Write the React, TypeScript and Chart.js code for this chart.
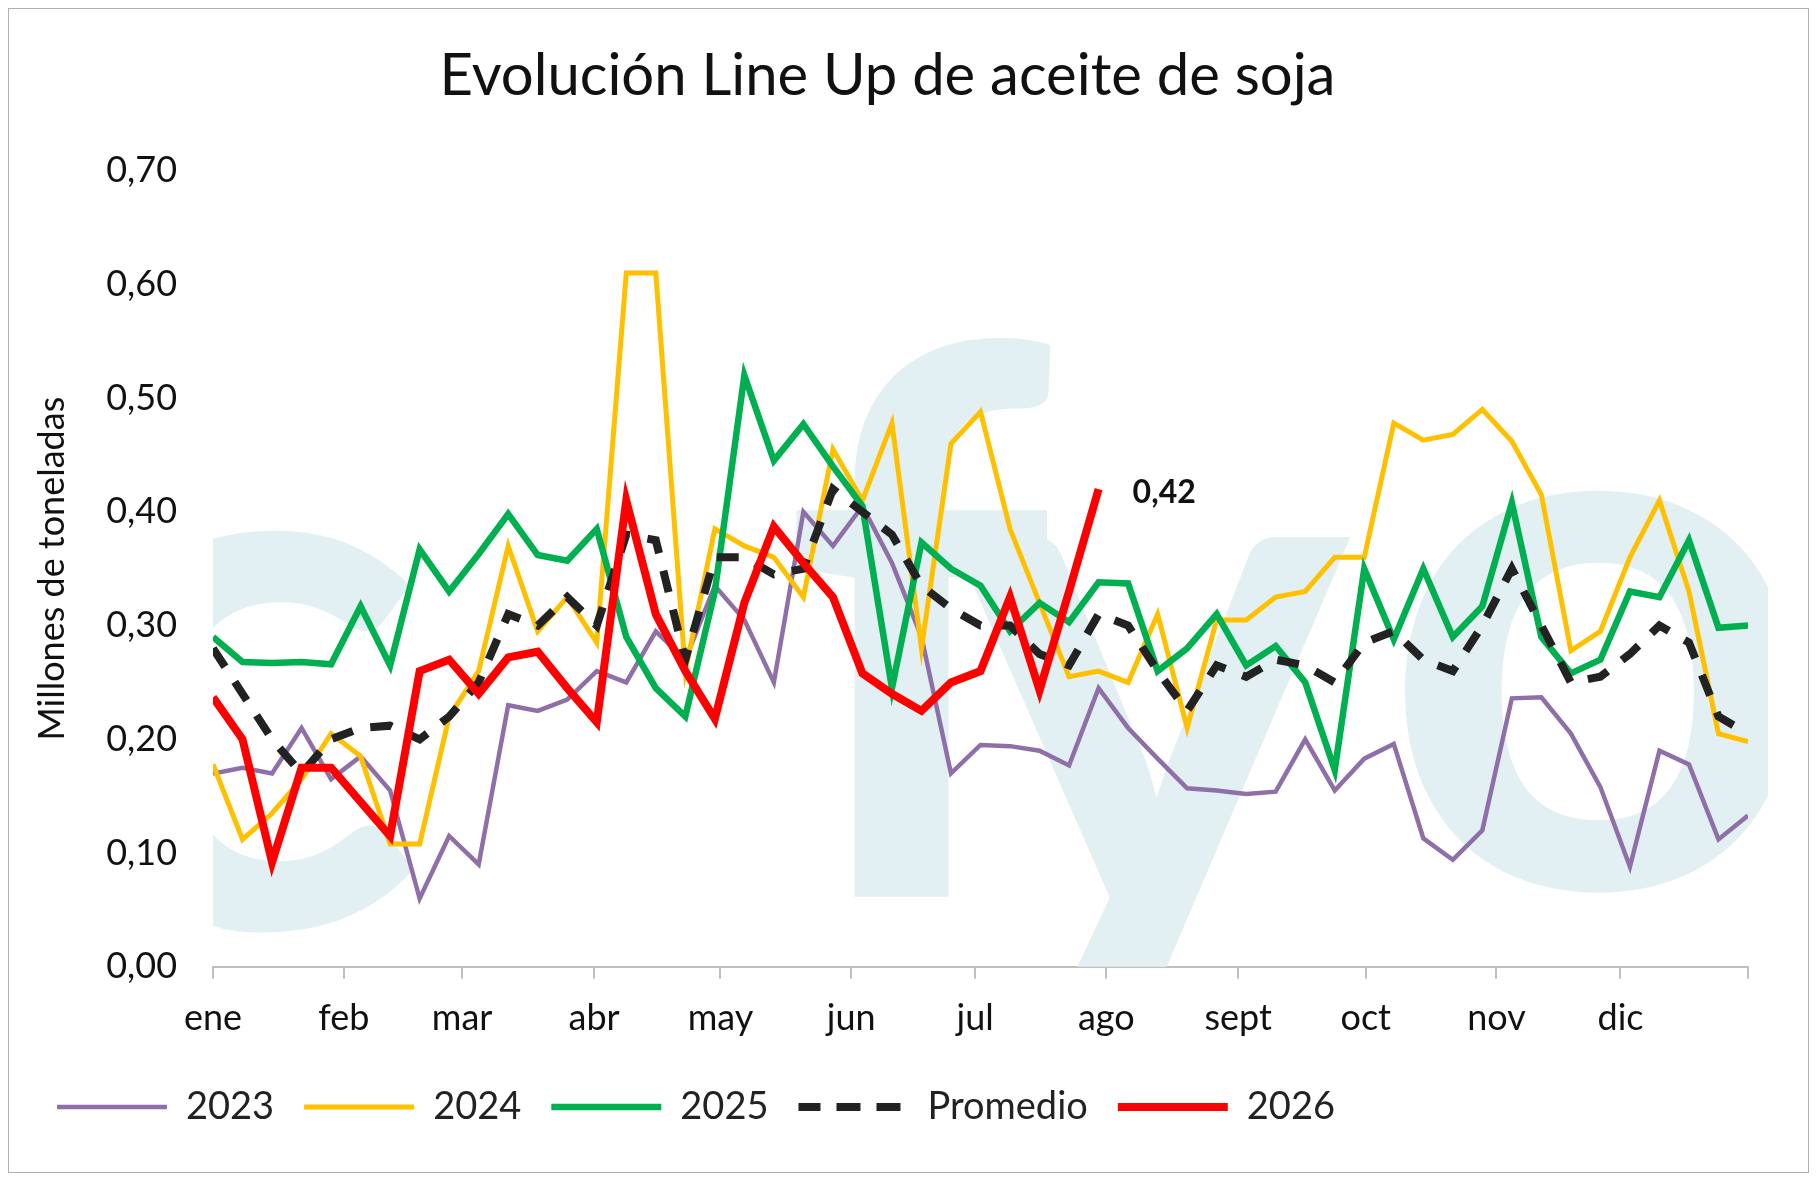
import React, { useEffect, useRef } from "react";
import { Chart, registerables } from "chart.js";
Chart.register(...registerables);

const monthLabels = ["ene", "feb", "mar", "abr", "may", "jun", "jul", "ago", "sept", "oct", "nov", "dic", ""];
const monthPos = [0, 4.43, 8.44, 12.91, 17.19, 21.62, 25.82, 30.26, 34.73, 39.05, 43.48, 47.68, 52];

const s2023 = [0.17,0.175,0.17,0.21,0.165,0.185,0.155,0.06,0.115,0.09,0.23,0.225,0.235,0.26,0.25,0.295,0.27,0.335,0.305,0.25,0.40,0.37,0.405,0.355,0.29,0.17,0.195,0.194,0.19,0.177,0.245,0.21,0.183,0.157,0.155,0.152,0.154,0.2,0.155,0.183,0.196,0.113,0.094,0.12,0.236,0.237,0.205,0.158,0.088,0.19,0.178,0.112,0.133];
const s2024 = [0.178,0.112,0.135,0.165,0.205,0.185,0.108,0.108,0.22,0.26,0.37,0.295,0.325,0.285,0.61,0.61,0.26,0.385,0.37,0.36,0.325,0.455,0.41,0.478,0.28,0.46,0.488,0.385,0.32,0.255,0.26,0.25,0.31,0.21,0.305,0.305,0.325,0.33,0.36,0.36,0.478,0.463,0.468,0.49,0.462,0.415,0.278,0.295,0.36,0.41,0.33,0.205,0.198];
const s2025 = [0.29,0.268,0.267,0.268,0.266,0.317,0.265,0.367,0.33,0.363,0.398,0.362,0.357,0.385,0.29,0.245,0.22,0.33,0.52,0.445,0.477,0.44,0.405,0.245,0.373,0.35,0.335,0.295,0.32,0.303,0.338,0.337,0.26,0.28,0.31,0.265,0.282,0.25,0.173,0.35,0.288,0.35,0.29,0.317,0.408,0.29,0.258,0.27,0.33,0.325,0.375,0.298,0.3];
const sProm = [0.28,0.24,0.2,0.17,0.2,0.21,0.212,0.2,0.22,0.25,0.31,0.3,0.325,0.3,0.38,0.375,0.27,0.36,0.36,0.345,0.35,0.42,0.4,0.38,0.335,0.315,0.3,0.3,0.275,0.265,0.31,0.3,0.26,0.225,0.265,0.255,0.27,0.265,0.25,0.285,0.295,0.27,0.26,0.3,0.35,0.3,0.25,0.255,0.275,0.3,0.285,0.22,0.205];
const s2026 = [0.237,0.2,0.092,0.175,0.175,0.145,0.115,0.26,0.27,0.24,0.272,0.277,0.245,0.215,0.41,0.31,0.26,0.218,0.32,0.387,0.355,0.325,0.258,0.24,0.225,0.25,0.26,0.325,0.243,0.33,0.42];

const toPts = (a: number[]) => a.map((y, i) => ({ x: i, y }));
const FONT = "Lato";

const watermark = {
  id: "watermark",
  beforeDatasetsDraw(chart: any) {
    const { ctx, chartArea: a } = chart;
    ctx.save();
    ctx.beginPath();
    ctx.rect(a.left, a.top - 60, a.right - a.left + 20, a.bottom - a.top + 60);
    ctx.clip();
    ctx.fillStyle = "#e2f0f3";
    ctx.font = `bold 760px ${FONT}`;
    ctx.textBaseline = "alphabetic";
    const w = a.right - a.left;
    const base = a.bottom - 40;
    ctx.fillText("c", a.left - 0.1 * w, base);
    ctx.fillText("f", a.left + 0.37 * w, base - 30);
    ctx.fillText("y", a.left + 0.48 * w, base);
    ctx.fillText("o", a.left + 0.76 * w, base - 40);
    ctx.restore();
  },
};

const lastLabel = {
  id: "lastLabel",
  afterDatasetsDraw(chart: any) {
    const idx = chart.data.datasets.findIndex((d: any) => d.label === "2026");
    const meta = chart.getDatasetMeta(idx);
    const p = meta.data[meta.data.length - 1];
    const { ctx } = chart;
    ctx.save();
    ctx.fillStyle = "#111";
    ctx.font = `bold 32px ${FONT}`;
    ctx.textBaseline = "middle";
    ctx.fillText("0,42", p.x + 34, p.y + 4);
    ctx.restore();
  },
};

export default function App() {
  const ref = useRef<HTMLCanvasElement>(null);
  useEffect(() => {
    const ds = (label: string, data: number[], color: string, width: number, order: number, dash: number[] = []) => ({
      label, data: toPts(data), borderColor: color, backgroundColor: color, borderWidth: width,
      borderDash: dash, pointRadius: 0, order, tension: 0,
    });
    const chart = new Chart(ref.current!, {
      type: "line",
      data: {
        datasets: [
          ds("2023", s2023, "#8f6fa8", 4.5, 4),
          ds("2024", s2024, "#ffc000", 5, 3),
          ds("2025", s2025, "#00b050", 6.5, 2),
          ds("Promedio", sProm, "#222222", 8, 1, [22, 18]),
          ds("2026", s2026, "#ff0000", 8, 0),
        ] as any,
      },
      options: {
        animation: false,
        responsive: true,
        maintainAspectRatio: false,
        layout: { padding: { left: 18, right: 60, top: 10, bottom: 36 } },
        plugins: {
          title: {
            display: true, text: "Evolución Line Up de aceite de soja", color: "#111",
            font: { family: FONT, size: 58, weight: "normal" }, padding: { top: 22, bottom: 60 },
          },
          legend: {
            position: "bottom", align: "start",
            labels: {
              boxWidth: 110, boxHeight: 0, color: "#222", padding: 30,
              font: { family: FONT, size: 38 },
              sort: (a: any, b: any) => a.datasetIndex - b.datasetIndex,
            },
          },
          tooltip: { enabled: false },
        },
        scales: {
          x: {
            type: "linear", min: 0, max: 52,
            afterBuildTicks: (s: any) => { s.ticks = monthPos.map((v) => ({ value: v })); },
            ticks: {
              autoSkip: false, maxRotation: 0, color: "#111", padding: 18,
              font: { family: FONT, size: 36 },
              callback: (v: any) => monthLabels[monthPos.indexOf(Number(v))] ?? "",
            },
            grid: { display: true, drawOnChartArea: false, drawTicks: true, tickLength: 12, color: "#bfbfbf", lineWidth: 2 },
            border: { color: "#bfbfbf", width: 2 },
          },
          y: {
            min: 0, max: 0.7,
            ticks: {
              stepSize: 0.1, color: "#111", padding: 28, font: { family: FONT, size: 36 },
              callback: (v: any) => Number(v).toFixed(2).replace(".", ","),
            },
            grid: { display: false },
            border: { display: false },
            title: { display: true, text: "Millones de toneladas", color: "#111", font: { family: FONT, size: 36 } },
          },
        },
      } as any,
      plugins: [watermark, lastLabel],
    });
    return () => chart.destroy();
  }, []);
  return (
    <div style={{ width: 1801, height: 1165, border: "1px solid #b0b0b0", boxSizing: "border-box", background: "#fff" }}>
      <canvas ref={ref} />
    </div>
  );
}
